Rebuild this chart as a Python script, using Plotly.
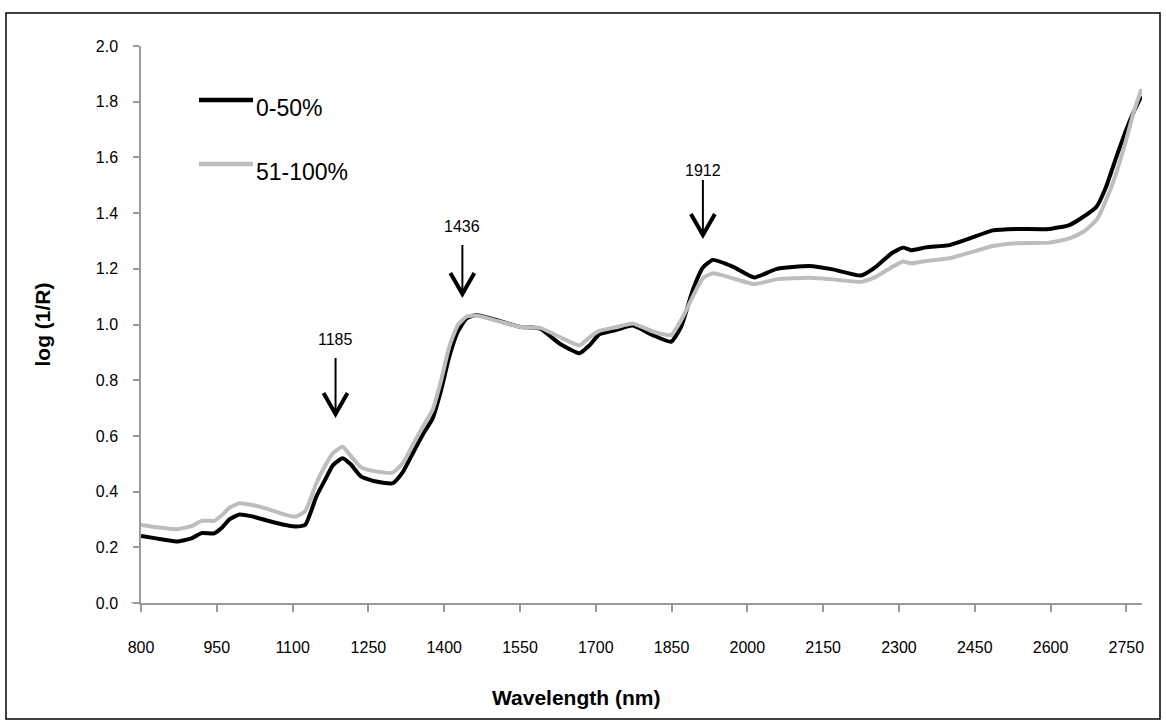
import plotly.graph_objects as go

# Wavelength grid (nm) and mean log(1/R) spectra for the two groups
wavelength = [800, 830, 870, 900, 920, 945, 960, 975, 995, 1020, 1050, 1080, 1105, 1125,
              1147, 1166, 1180, 1199, 1215, 1235, 1260, 1298, 1318, 1340, 1360, 1377, 1394,
              1410, 1427, 1444, 1463, 1503, 1549, 1590, 1628, 1668, 1688, 1707, 1740, 1773,
              1813, 1849, 1869, 1892, 1912, 1932, 1971, 2014, 2057, 2123, 2169, 2225, 2255,
              2285, 2308, 2324, 2354, 2400, 2440, 2486, 2532, 2598, 2637, 2665, 2691, 2710,
              2730, 2750, 2765, 2780]

low_group = [0.241, 0.232, 0.221, 0.232, 0.251, 0.250, 0.270, 0.300, 0.318, 0.311, 0.296,
             0.282, 0.275, 0.281, 0.382, 0.448, 0.495, 0.520, 0.498, 0.455, 0.438, 0.430,
             0.470, 0.545, 0.612, 0.662, 0.765, 0.884, 0.974, 1.022, 1.034, 1.016, 0.992,
             0.985, 0.932, 0.897, 0.926, 0.965, 0.980, 0.996, 0.962, 0.938, 0.992, 1.124,
             1.205, 1.232, 1.208, 1.169, 1.199, 1.210, 1.198, 1.176, 1.208, 1.255, 1.276,
             1.267, 1.277, 1.285, 1.309, 1.338, 1.343, 1.343, 1.357, 1.387, 1.423, 1.495,
             1.600, 1.700, 1.765, 1.820]

high_group = [0.280, 0.272, 0.265, 0.276, 0.295, 0.295, 0.315, 0.342, 0.358, 0.352, 0.338,
              0.320, 0.310, 0.330, 0.430, 0.498, 0.538, 0.561, 0.528, 0.488, 0.474, 0.468,
              0.502, 0.575, 0.640, 0.693, 0.800, 0.920, 0.998, 1.028, 1.032, 1.014, 0.992,
              0.988, 0.956, 0.925, 0.955, 0.977, 0.990, 1.004, 0.975, 0.962, 1.016, 1.100,
              1.166, 1.184, 1.166, 1.145, 1.162, 1.168, 1.162, 1.153, 1.172, 1.205, 1.226,
              1.220, 1.228, 1.238, 1.258, 1.282, 1.292, 1.294, 1.309, 1.333, 1.375, 1.447,
              1.543, 1.665, 1.765, 1.845]

series_names = ["0-50%", "51-100%"]
series_colors = ["#000000", "#bdbdbd"]

# Marked absorption bands and the height of each arrow tip
band_wavelengths = [1185, 1436, 1912]
arrow_tip_values = [0.675, 1.106, 1.318]
arrow_lengths = [57, 50, 56]       # shaft length in pixels
label_offsets = [76, 68, 65]       # label centre above tip, pixels

x_ticks = list(range(800, 2751, 150))
y_ticks = [0.0, 0.2, 0.4, 0.6, 0.8, 1.0, 1.2, 1.4, 1.6, 1.8, 2.0]

FONT = "Liberation Sans, Arial, sans-serif"
AXIS_GREY = "#9a9a9a"

# plot-area geometry in pixels
W, H = 1166, 726
L, R, T, B = 141, W - 1142, 46, H - 603
PW, PH = W - L - R, H - T - B


def px_to_paper_x(px):
    return (px - L) / PW


def px_to_paper_y(py):
    return (H - B - py) / PH


fig = go.Figure()

for values, name, color in [(low_group, series_names[0], series_colors[0]),
                            (high_group, series_names[1], series_colors[1])]:
    fig.add_trace(go.Scatter(
        x=wavelength, y=values, name=name, mode="lines",
        line=dict(color=color, width=4, shape="spline", smoothing=0.5),
        showlegend=False, hoverinfo="x+y+name",
    ))

shapes = []
annotations = []

# arrows pointing at the absorption bands
for wl, tip, length, off in zip(band_wavelengths, arrow_tip_values, arrow_lengths, label_offsets):
    shapes.append(dict(
        type="path", xref="x", yref="y", xsizemode="pixel", ysizemode="pixel",
        xanchor=wl, yanchor=tip, path=f"M 0,3 L 0,{length}",
        line=dict(color="#000000", width=2),
    ))
    shapes.append(dict(
        type="path", xref="x", yref="y", xsizemode="pixel", ysizemode="pixel",
        xanchor=wl, yanchor=tip, path="M -12,22 L 0,1 L 12,22",
        line=dict(color="#000000", width=4),
    ))
    annotations.append(dict(
        x=wl, y=tip, xref="x", yref="y", text=str(wl), showarrow=False,
        yshift=off, yanchor="middle", xanchor="center",
        font=dict(family=FONT, size=16, color="#000000"),
    ))

# hand-placed legend
legend_rows = [(100, 108), (164, 172)]
for (line_y, text_y), name, color in zip(legend_rows, series_names, series_colors):
    shapes.append(dict(
        type="line", xref="paper", yref="paper",
        x0=px_to_paper_x(199), x1=px_to_paper_x(253),
        y0=px_to_paper_y(line_y), y1=px_to_paper_y(line_y),
        line=dict(color=color, width=4.5),
    ))
    annotations.append(dict(
        x=px_to_paper_x(254), y=px_to_paper_y(text_y), xref="paper", yref="paper",
        text=name, showarrow=False, xanchor="left", yanchor="middle",
        font=dict(family=FONT, size=23, color="#000000"),
    ))

# x-axis line stub crossing left of the value axis
shapes.append(dict(
    type="line", xref="paper", yref="y", x0=px_to_paper_x(131), x1=0, y0=0, y1=0,
    line=dict(color=AXIS_GREY, width=1.5),
))

# outer chart frame
shapes.append(dict(
    type="rect", xref="paper", yref="paper",
    x0=px_to_paper_x(6), x1=px_to_paper_x(1160),
    y0=px_to_paper_y(719), y1=px_to_paper_y(13),
    line=dict(color="#000000", width=1.5), fillcolor="rgba(0,0,0,0)", layer="below",
))

# axis titles
annotations.append(dict(
    x=px_to_paper_x(576), y=px_to_paper_y(697), xref="paper", yref="paper",
    text="<b>Wavelength (nm)</b>", showarrow=False, xanchor="center", yanchor="middle",
    font=dict(family=FONT, size=21, color="#000000"),
))
annotations.append(dict(
    x=px_to_paper_x(42), y=0.5, xref="paper", yref="paper",
    text="<b>log (1/R)</b>", showarrow=False, textangle=-90,
    xanchor="center", yanchor="middle",
    font=dict(family=FONT, size=21, color="#000000"),
))

fig.update_layout(
    width=W, height=H,
    margin=dict(l=L, r=R, t=T, b=B, pad=0),
    paper_bgcolor="#ffffff", plot_bgcolor="#ffffff",
    shapes=shapes, annotations=annotations,
    font=dict(family=FONT, size=16, color="#000000"),
    xaxis=dict(
        range=[800, 2781], tickmode="array", tickvals=x_ticks,
        ticktext=[str(v) for v in x_ticks],
        showline=True, linecolor=AXIS_GREY, linewidth=1.5,
        ticks="outside", ticklen=7, tickwidth=1.5, tickcolor=AXIS_GREY,
        showgrid=False, zeroline=False, ticklabelstandoff=22,
        tickfont=dict(family=FONT, size=16, color="#000000"),
    ),
    yaxis=dict(
        range=[0, 2.0], tickmode="array", tickvals=y_ticks,
        ticktext=[f"{v:.1f}" for v in y_ticks],
        showline=True, linecolor=AXIS_GREY, linewidth=1.5,
        ticks="outside", ticklen=6, tickwidth=1.5, tickcolor=AXIS_GREY,
        showgrid=False, zeroline=False, ticklabelstandoff=12,
        tickfont=dict(family=FONT, size=16, color="#000000"),
    ),
)

fig.write_html("out.html")
